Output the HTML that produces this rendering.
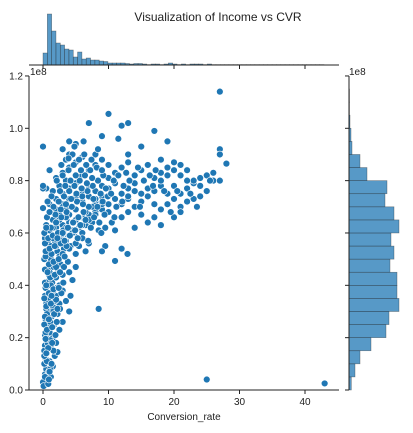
<!DOCTYPE html>
<html><head><meta charset="utf-8">
<style>
html,body{margin:0;padding:0;background:#fff;}
svg{display:block;font-family:"Liberation Sans","DejaVu Sans",sans-serif;}
</style></head>
<body>
<svg id="chart" width="413" height="433" viewBox="0 0 413 433" xmlns="http://www.w3.org/2000/svg">
<text x="218" y="21" font-size="12" text-anchor="middle" fill="#222">Visualization of Income vs CVR</text>
<g id="topHist"></g>
<g id="rightHist"></g>
<g id="scatter"></g>
<g id="axes"></g>
</svg>
<script>
// ---- data ----
const xTicks = [0, 10, 20, 30, 40];
const yTicks = [0, 0.2, 0.4, 0.6, 0.8, 1.0, 1.2];
const yTickLabels = ["0.0","0.2","0.4","0.6","0.8","1.0","1.2"];
const convRate = [0,0.3,0.1,0.8,0.5,1.2,0.9,1.5,0.2,
0.4,1,1.8,0.6,2.2,1.2,0.3,2,0.8,1.5,0.5,
0.3,1,2.5,0.7,1.7,3,0.4,1.3,2.2,0.9,4,0.2,
0.5,1.5,2.5,3.5,0.8,2,1.2,3,0.4,2.5,4.2,1.8,8.5,
0.3,1,2,3,4,0.6,1.5,2.7,3.8,5,0.2,1.2,4.5,2.3,
0.4,1.3,2.2,3.2,4.2,5,0.8,1.8,2.8,3.8,4.8,6,7,0.3,1.2,2.5,3.5,5.5,6.5,9.5,9,11,12,12.9,
1,2,3,4,5,6,7,8,1.5,2.5,3.5,4.5,5.5,6.5,7.5,8.5,9.5,10.5,2,3,4,5,6,7,9,12,14,16,18,0.5,11,
1,2,3,4,5,6,7,8,9,10,11,12,13,14,15,16,17,18,19,20,21,22,23,24,25,26,27,3,4,5,6,7,8,9,10,2.5,3.5,1.5,0.5,11,12,13,14,15,16,17,18,19,20,21,22,23,15,13,10,17,21,20,
2,3,4,5,6,7,8,9,10,11,12,13,14,15,16,17,18,19,20,21,22,23,24,25,26,27,27,28,1,3.5,6,8,4,13,18,0,0,0,0,
4,3,5,9,7,10,12,13,17,15,27,25,43,19,
0.2,0.7,1.1,0.5,1.6,0.9,1.9,0.3,1.4,0.6,1.1,0.4,2.8,3.2,2.1,1.6,
1.5,2.5,3.5,4.5,5.5,6.5,7.5,2,3,4,5,6,7,8,9,1,2,3,4,5,6,2.5,3.5,4.5,1.5,0.7,1.2,
0.3,0.9,0.6,1.3,0.2,1.6,0.8,1.1,0.4,1.9,0.6,1.4,2.1,0.3,0.9,1.7,2.6,0.5,1.2,2.0,0.2,0.9,1.6,2.4,3.1,0.5,1.1,1.8,2.6,0.3,0.9,1.6,2.4,3.3,0.4,1.0,1.8,2.7,3.6,0.3,0.8,1.5,2.3,3.1,0.7,1.3,2.2,1.4,0.5,1.0,
1.2,2.0,2.8,3.6,4.4,5.2,6.0,6.8,7.6,8.4,9.2,1.6,2.4,3.2,4.0,4.8,5.6,6.4,7.2,8.0,8.8,9.6,1.9,2.7,3.5,4.3,5.1,5.9,6.7,7.5,8.3,9.1,9.9,2.2,3.0,3.8,4.6,5.4,6.2,7.0,7.8,8.6,3.3,4.1,4.9,5.7,6.5,7.3,2.6,3.4,4.2,5.0,5.8,6.6,1.3,2.1,3.0,3.9,4.7,5.5,6.3,7.4,8.2,9.0,10.0,10.8,11.5,12.3,13.2,14.0,10.4,11.2,12.1,13.0,12.7,14.5,15.4,16.3,17.2,18.0,19.0,20.0,21.0,22.0,16.8,18.5,20.5,22.5,24.0,25.5,14.8,19.5,23.5,4.5,2.8,3.9,6.1,7.7,9.4,10.9,8.9,5.3,6.9,0.6,1.0,0.7,0.2,0.5,
4.8,6.2,11.5,8.4];
const income = [3,6,1.5,2.3,8,5,7,9,10,
12,11,13,14,14.5,16,17,18,19,20,20,
21,22,23,24,25,26,27,28,29,30,30,25,
31,32,33,34,35,36,37,38,39,40,36,34,31,
41,42,43,44,45,46,47,48,49,47,50,50,42,45.5,
51,52,53,54,55,52,56,57,58,59,60,58,56,58,55,51,57,55,53,55,53,49.3,54,52,
61,62,63,64,65,66,67,68,65,67,69,61,62,63,64,61,62,64,69,60,67,69,60,70,69,66,62,64,63,63,61,
71,73,75,77,79,72,74,76,78,71,73,75,77,79,72,74,76,78,71,73,75,77,79,74,76,80,80,71,73,74,76,78,72,74,77,78,80,76,77,79,71,73,70,75,77,71,69,75,78,70,72,73,67,68,68,66,68,66,
81,83,85,87,82,84,86,88,81,83,85,87,82,84,86,81,83,85,87,82,84,80,81,82,83,92,90,86.5,84,88,89,90,90,90,88,93,77,69.5,78,
95,92,94,97,102,105.5,101,102,99,93,114,4,2.5,95,
15,18,26,33,38,44,49,36,41,29,8,22,37,47,39,30,
58,60,62,64,66,68,70,55,57,59,61,63,65,67,71,45,47,52,54,56,58,65,66,60,62,46,40,
5,4,11,10,13,15,16,19,19.5,21,23,24,26,28,27,29,31,32,33,34.5,35,37,38.5,39,41,40,43,44,45,46,48,49,50,51,53,54,55,56,55,56,58,59,60,61,45,36,31,18,14,7,
62,64,66,68,70,72,74,76,78,80,82,70,72,74,76,78,80,82,84,73,75,77,67,69,71,73,75,77,79,81,70,72,74,58,60,62,64,66,68,70,66,64,57,59,61,63,65,62,76,78,80,82,84,86,74,80,82,84,86,88,90,88,85,84,86,80,82,78,80,76,75,70,72,74,83,85,80,82,84,80,82,84,86,80,78,76,76,75,78,80,70,68,70,90,86,88.5,71,73,67,66,60,58,57,66,68,72,60,62,
93,95,96,92];
const topCounts = [12,51,34,22,20,16,15,8,13,6,7,5,5,4,3.5,2,2,2,2,1.5,1,1.5,1.5,1,0.4,1,1,0.4,1,2,1,0.4,1,0.4,1,1,1,0.4,1,0.4,0.4,0.4,0.4,0.4,0.4,0.4,0.4,0.4,0.4,0.4,0.4,0.4,0.4,0.4,0.4,0.4,0.4,0.4,0.4,0.4,0.4,0.4,0.4,0.4,0.4];
const topBinWidth = 0.66;
const rightCounts = [2.3,6,11,22,37,40,50,48,48,41,45,42,50,45,36,38,18,11,3,2,1,0.5,0.5];
const rightBinWidth = 5; // in 1e6 units

// ---- geometry ----
const L=29,R=339,T=76,B=390;
const sx = v => 43 + v*6.55;
const sy = v => B - v*2.617;          // v in 1e6
const NS="http://www.w3.org/2000/svg";
function mk(tag, attrs, parent){const e=document.createElementNS(NS,tag);for(const k in attrs)e.setAttribute(k,attrs[k]);parent.appendChild(e);return e;}
const blue="#1f77b4";

// top histogram
const th=document.getElementById('topHist');
const topBase=65, topScale=1;
topCounts.forEach((c,i)=>{
  const x0=sx(i*topBinWidth), x1=sx((i+1)*topBinWidth);
  const r=mk('rect',{x:x0,y:topBase-c*topScale,width:x1-x0,height:c*topScale,fill:"rgba(31,119,180,0.75)",stroke:"rgba(40,40,40,0.5)","stroke-width":0.6},th);
  
  
});
// right histogram
const rh=document.getElementById('rightHist');
const rightBase=349;
rightCounts.forEach((c,i)=>{
  const y0=sy((i+1)*rightBinWidth), y1=sy(i*rightBinWidth);
  const r=mk('rect',{x:rightBase,y:y0,width:c,height:y1-y0,fill:"rgba(31,119,180,0.75)",stroke:"rgba(40,40,40,0.5)","stroke-width":0.6},rh);
  
  
});
// scatter
const sc=document.getElementById('scatter');
const n=Math.min(convRate.length,income.length);
for(let i=0;i<n;i++){
  const c=mk('circle',{cx:sx(convRate[i]),cy:sy(income[i]),r:3.4,fill:blue,stroke:"#fff","stroke-width":0.6},sc);
  
  
}
// axes
const ax=document.getElementById('axes');
const ln=(a)=>mk('line',Object.assign({stroke:"#222","stroke-width":1},a),ax);
ln({x1:L,y1:T,x2:L,y2:B});
ln({x1:L,y1:B,x2:R,y2:B});
ln({x1:L,y1:topBase,x2:R,y2:topBase});
ln({x1:rightBase,y1:T,x2:rightBase,y2:B});
xTicks.forEach(v=>{
  ln({x1:sx(v),y1:B,x2:sx(v),y2:B+4});
  ln({x1:sx(v),y1:topBase,x2:sx(v),y2:topBase+4});
  const t=mk('text',{x:sx(v),y:B+15,"font-size":10,"text-anchor":"middle",fill:"#222"},ax);
  t.textContent=v;
  
  
});
yTicks.forEach((v,i)=>{
  const y=sy(v*100);
  ln({x1:L-4,y1:y,x2:L,y2:y});
  ln({x1:rightBase-4,y1:y,x2:rightBase,y2:y});
  const t=mk('text',{x:L-6,y:y+3.5,"font-size":10,"text-anchor":"end",fill:"#222"},ax);
  t.textContent=yTickLabels[i];
  
  
});
const xl=mk('text',{x:184,y:420,"font-size":10,"text-anchor":"middle",fill:"#222"},ax);
xl.textContent="Conversion_rate";


const o1=mk('text',{x:30,y:75,"font-size":10,fill:"#222"},ax);
o1.textContent="1e8";


const o2=mk('text',{x:349,y:75,"font-size":10,fill:"#222"},ax);
o2.textContent="1e8";


</script>
</body></html>
